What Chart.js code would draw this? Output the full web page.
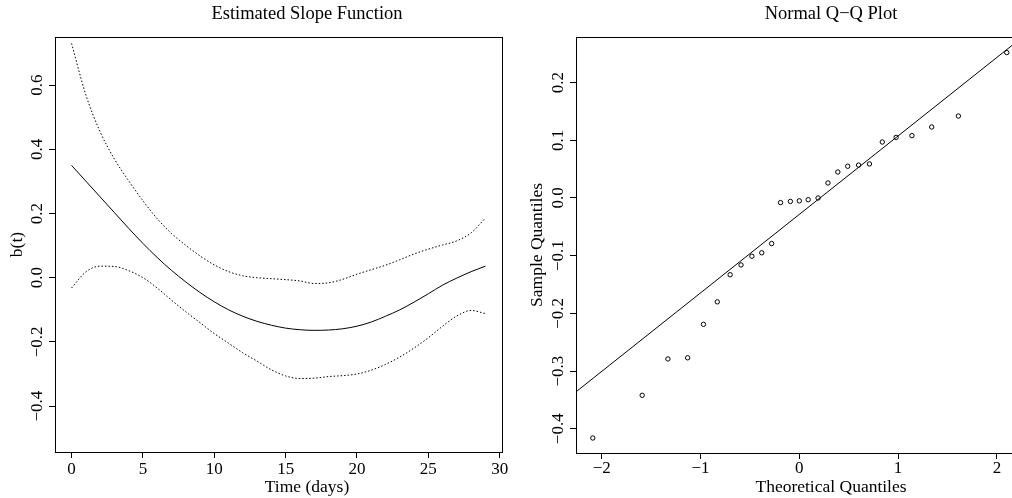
<!DOCTYPE html>
<html lang="en">
<head>
<meta charset="UTF-8">
<title>Estimated Slope Function / Normal Q-Q Plot</title>
<script src="https://cdn.jsdelivr.net/npm/chart.js"></script>
<style>
  html, body { margin: 0; padding: 0; background: #fff; overflow: hidden; width: 1012px; height: 498px; }
  canvas { position: absolute; top: 0; }
  #slopeChart { left: 0; width: 614px; height: 498px; }
  #qqChart { left: 516px; width: 630px; height: 498px; }
</style>
</head>
<body>
<canvas id="slopeChart" width="614" height="498"></canvas>
<canvas id="qqChart" width="630" height="498"></canvas>

<script>
// ---- left panel: estimated slope b(t) with its band ----
const days = [0, 1, 2, 3, 4, 5, 6, 7, 8, 9, 10, 11, 12, 13, 14, 15, 16, 17, 18, 19, 20, 21, 22, 23, 24, 25, 26, 27, 28, 29];
const slope = [0.350, 0.301, 0.252, 0.203, 0.154, 0.107, 0.063, 0.023, -0.013, -0.046, -0.075, -0.100, -0.120, -0.136, -0.148,
  -0.157, -0.162, -0.164, -0.163, -0.159, -0.151, -0.138, -0.120, -0.100, -0.076, -0.050, -0.023, -0.001, 0.019, 0.036];
const upperBand = [0.730, 0.570, 0.455, 0.370, 0.302, 0.240, 0.184, 0.138, 0.101, 0.068, 0.040, 0.019, 0.006, 0.000, -0.003,
  -0.006, -0.010, -0.018, -0.016, -0.005, 0.011, 0.025, 0.039, 0.056, 0.074, 0.089, 0.102, 0.115, 0.140, 0.186];
const lowerBand = [-0.032, 0.018, 0.036, 0.035, 0.022, 0.000, -0.032, -0.070, -0.106, -0.140, -0.174, -0.204, -0.234, -0.260, -0.287,
  -0.306, -0.314, -0.313, -0.308, -0.305, -0.300, -0.288, -0.270, -0.247, -0.219, -0.187, -0.151, -0.119, -0.102, -0.112];
const dayTicks = [0, 5, 10, 15, 20, 25, 30];
const slopeTicks = [-0.4, -0.2, 0.0, 0.2, 0.4, 0.6];

// ---- right panel: normal Q-Q plot of residuals ----
const theoQ = [-2.09, -1.59, -1.33, -1.13, -0.97, -0.83, -0.70, -0.59, -0.48, -0.38, -0.28, -0.19, -0.09, 0.00,
  0.09, 0.19, 0.29, 0.39, 0.49, 0.60, 0.71, 0.84, 0.98, 1.14, 1.34, 1.61, 2.10];
const sampleQ = [-0.416, -0.342, -0.279, -0.277, -0.219, -0.180, -0.133, -0.116, -0.101, -0.095, -0.079, -0.008, -0.006, -0.005,
  -0.003, 0.000, 0.026, 0.045, 0.055, 0.057, 0.059, 0.097, 0.105, 0.108, 0.123, 0.142, 0.252];
const qqLineX = [-2.26, 2.26];
const qqLineY = [-0.336, 0.279];
const theoTicks = [-2, -1, 0, 1, 2];
const sampleTicks = [-0.4, -0.3, -0.2, -0.1, 0.0, 0.1, 0.2];

Chart.defaults.font.family = "'Liberation Serif', 'Times New Roman', serif";
Chart.defaults.font.size = 17;
Chart.defaults.color = '#000';

// R style numbers, with a real minus sign
function fmt(v, digits) {
  return v.toFixed(digits).replace('-', '\u2212');
}

// use the tick values from the arrays above
function fixTicks(values) {
  return function (scale) {
    scale.ticks = values.map(v => ({ value: v }));
  };
}

function points(xs, ys) {
  return xs.map((x, i) => ({ x: x, y: ys[i] }));
}

// draws the closed frame round the plot region (like box() in R)
const plotBox = {
  id: 'plotBox',
  afterDraw(chart) {
    const a = chart.chartArea;
    const ctx = chart.ctx;
    const l = Math.round(a.left - 0.5) + 0.5, r = Math.round(a.right - 0.5) + 0.5;
    const t = Math.round(a.top - 0.5) + 0.5, b = Math.round(a.bottom - 0.5) + 0.5;
    ctx.save();
    ctx.strokeStyle = '#000';
    ctx.lineWidth = 1;
    ctx.strokeRect(l, t, r - l, b - t);
    ctx.restore();
  }
};

function xAxis(min, max, values, digits, height, pad) {
  return {
    type: 'linear', position: 'bottom', min: min, max: max,
    afterBuildTicks: fixTicks(values),
    afterFit: s => { s.height = height; },
    grid: { drawOnChartArea: false, tickLength: 6, color: '#000' },
    border: { color: '#000' },
    ticks: { padding: pad, maxRotation: 0, autoSkip: false, callback: v => fmt(v, digits) }
  };
}

function yAxis(min, max, values, width, label, titlePad) {
  return {
    type: 'linear', position: 'left', min: min, max: max,
    afterBuildTicks: fixTicks(values),
    afterFit: s => { s.width = width; },
    grid: { drawOnChartArea: false, tickLength: 6, color: '#000' },
    border: { color: '#000' },
    ticks: { minRotation: 90, maxRotation: 90, crossAlign: 'center', padding: -4, autoSkip: false, callback: v => fmt(v, 1) },
    title: { display: true, text: label, font: { size: 17.5 }, padding: { top: titlePad, bottom: 0 } }
  };
}

// empty axis on the right, only to move the plot region (and centre the titles)
function spacer(width) {
  return {
    type: 'linear', position: 'right', display: true,
    grid: { display: false }, border: { display: false }, ticks: { display: false },
    afterFit: s => { s.width = width; }
  };
}

function plugins(title, xlabel) {
  return {
    legend: { display: false },
    tooltip: { enabled: false },
    title: { display: true, text: title, color: '#000', font: { size: 18.5, weight: 'normal' }, padding: { top: 3, bottom: 11.8 } },
    subtitle: { display: true, position: 'bottom', text: xlabel, color: '#000', font: { size: 17.5, weight: 'normal' }, padding: { top: 0, bottom: 0 } }
  };
}

new Chart(document.getElementById('slopeChart'), {
  type: 'scatter',
  data: {
    datasets: [
      { data: points(days, slope), showLine: true, borderColor: '#000', borderWidth: 1, pointRadius: 0, cubicInterpolationMode: 'monotone' },
      { data: points(days, upperBand), showLine: true, borderColor: '#000', borderWidth: 1, borderDash: [1.5, 2], pointRadius: 0, cubicInterpolationMode: 'monotone' },
      { data: points(days, lowerBand), showLine: true, borderColor: '#000', borderWidth: 1, borderDash: [1.5, 2], pointRadius: 0, cubicInterpolationMode: 'monotone' }
    ]
  },
  options: {
    responsive: false, animation: false, devicePixelRatio: 1, events: [],
    layout: { padding: 0 },
    scales: {
      x: xAxis(-1.16, 30.16, dayTicks, 0, 25, 1),
      y: yAxis(-0.543, 0.75, slopeTicks, 55, 'b(t)', 7),
      pad: spacer(112)
    },
    plugins: plugins('Estimated Slope Function', 'Time (days)')
  },
  plugins: [plotBox]
});

new Chart(document.getElementById('qqChart'), {
  type: 'scatter',
  data: {
    datasets: [
      { data: points(theoQ, sampleQ), borderColor: '#000', backgroundColor: 'rgba(0,0,0,0)', borderWidth: 1, pointRadius: 2.2, pointStyle: 'circle' },
      { data: points(qqLineX, qqLineY), showLine: true, borderColor: '#000', borderWidth: 1, pointRadius: 0 }
    ]
  },
  options: {
    responsive: false, animation: false, devicePixelRatio: 1, events: [],
    layout: { padding: 0 },
    scales: {
      x: xAxis(-2.26, 2.26, theoTicks, 0, 24, -1),
      y: yAxis(-0.442, 0.279, sampleTicks, 60, 'Sample Quantiles', 11),
      pad: spacer(123.4)
    },
    plugins: plugins('Normal Q\u2212Q Plot', 'Theoretical Quantiles')
  },
  plugins: [plotBox]
});
</script>
</body>
</html>
